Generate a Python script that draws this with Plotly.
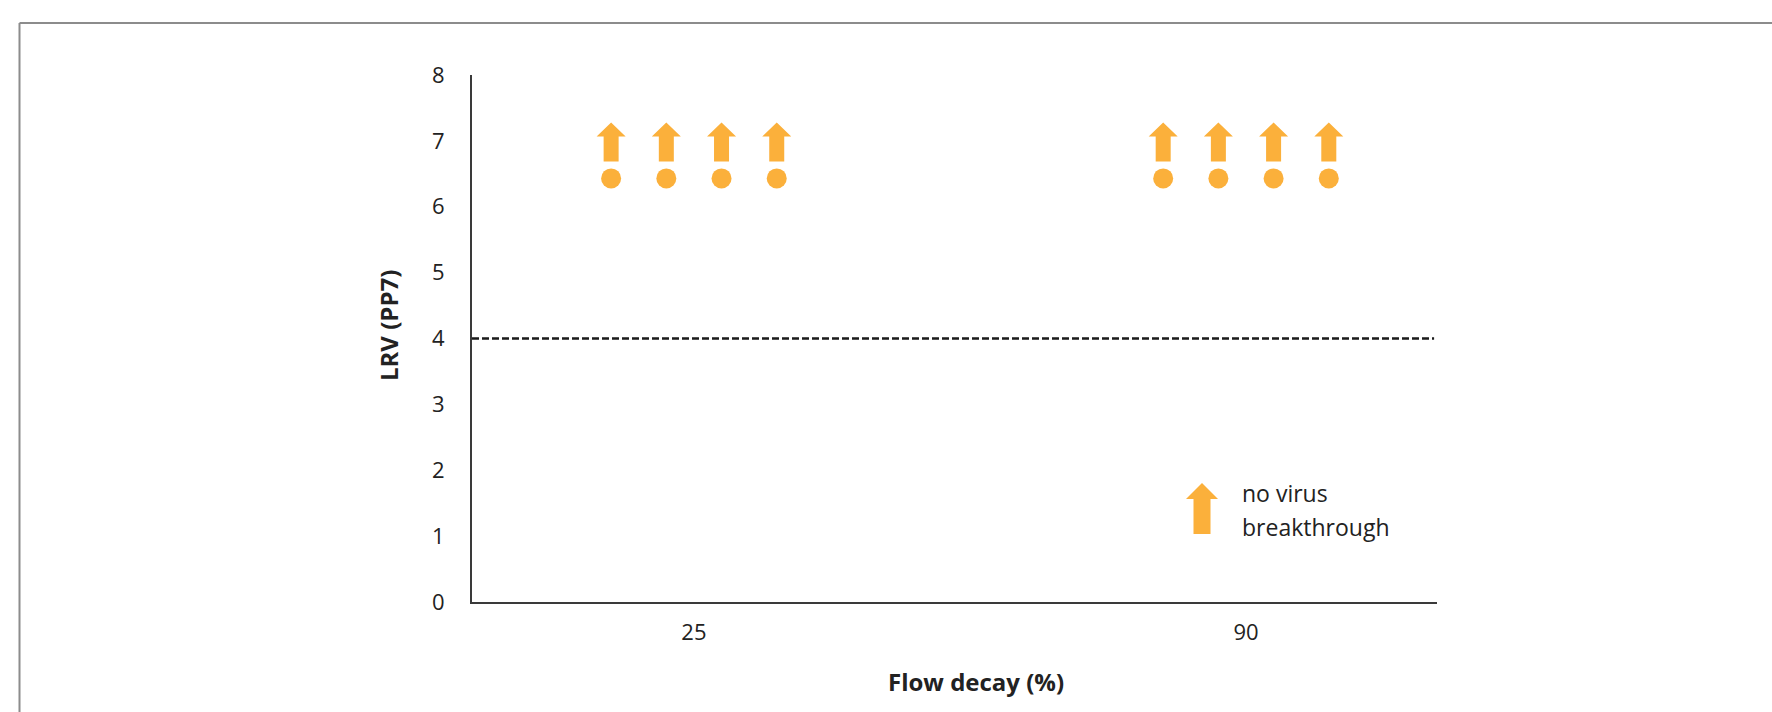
import plotly.graph_objects as go

# Flow decay groups and the log removal values measured for each replicate
flow_decay = ["25", "90"]
lrv_25 = [6.43, 6.43, 6.43, 6.43]
lrv_90 = [6.43, 6.43, 6.43, 6.43]
target_lrv = 4
y_ticks = [0, 1, 2, 3, 4, 5, 6, 7, 8]

ORANGE = "#FBB03B"
FONT = "Open Sans"
TEXT = "#222222"

# replicate spread around each category position (x-axis units)
spread = [-0.15, -0.05, 0.05, 0.15]


def up_arrow(base, shaft_half, shaft_top, head_half, tip):
    """Block arrow outline in pixel offsets from its anchor (y up)."""
    return (f"M{-shaft_half},{base} L{-shaft_half},{shaft_top} "
            f"L{-head_half},{shaft_top} L0,{tip} L{head_half},{shaft_top} "
            f"L{shaft_half},{shaft_top} L{shaft_half},{base} Z")


# arrow drawn above each replicate point
POINT_ARROW = up_arrow(17, 7.5, 42, 14.5, 56)
# larger arrow used in the key
KEY_ARROW = up_arrow(0, 8.5, 35, 16, 51)

fig = go.Figure()
shapes = []

for gi, values in enumerate([lrv_25, lrv_90]):
    xs = [gi + s for s in spread]
    fig.add_trace(go.Scatter(
        x=xs, y=values, mode="markers",
        marker=dict(symbol="circle", size=20, color=ORANGE, line=dict(width=0)),
        showlegend=False, hoverinfo="skip",
    ))
    for x, v in zip(xs, values):
        shapes.append(dict(
            type="path", xref="x", yref="y",
            xsizemode="pixel", ysizemode="pixel", xanchor=x, yanchor=v,
            path=POINT_ARROW, fillcolor=ORANGE, line=dict(width=0),
        ))

# key glyph
shapes.append(dict(
    type="path", xref="paper", yref="paper",
    xsizemode="pixel", ysizemode="pixel",
    xanchor=(1202 - 472) / 965, yanchor=(602 - 534) / 527,
    path=KEY_ARROW, fillcolor=ORANGE, line=dict(width=0),
))

# target LRV reference line
shapes.append(dict(
    type="line", xref="paper", yref="y", x0=0, x1=0.997,
    y0=target_lrv, y1=target_lrv,
    line=dict(color="#1a1a1a", width=2.5, dash="7px,3px"),
))

# frame around the figure
frame_x = (19.5 - 472) / 965
frame_y = (602 - 23) / 527
shapes.append(dict(type="line", xref="paper", yref="paper",
                   x0=frame_x, x1=frame_x, y0=frame_y, y1=-0.3,
                   line=dict(color="#8c8c8c", width=2)))
shapes.append(dict(type="line", xref="paper", yref="paper",
                   x0=frame_x, x1=1.4, y0=frame_y, y1=frame_y,
                   line=dict(color="#8c8c8c", width=2)))

annotations = [
    dict(x=0.7959, y=(602 - 493) / 527, xref="paper", yref="paper",
         xanchor="left", yanchor="middle", showarrow=False,
         text="no virus", font=dict(family=FONT, size=23, color=TEXT)),
    dict(x=0.7959, y=(602 - 527) / 527, xref="paper", yref="paper",
         xanchor="left", yanchor="middle", showarrow=False,
         text="breakthrough", font=dict(family=FONT, size=23, color=TEXT)),
    # axis titles
    dict(x=0.5223, y=-0.1518, xref="paper", yref="paper",
         xanchor="center", yanchor="middle", showarrow=False,
         text="<b>Flow decay (%)</b>", font=dict(family=FONT, size=24, color=TEXT)),
    dict(x=-0.087, y=(602 - 326) / 527, xref="paper", yref="paper",
         xanchor="center", yanchor="middle", showarrow=False, textangle=-90,
         text="<b>LRV (PP7)</b>", font=dict(family=FONT, size=24, color=TEXT)),
]

fig.update_layout(
    width=1772, height=712,
    margin=dict(l=472, r=335, t=75, b=110),
    paper_bgcolor="white", plot_bgcolor="white",
    font=dict(family=FONT, size=23, color=TEXT),
    annotations=annotations, shapes=shapes,
    showlegend=False,
)
fig.update_xaxes(
    range=[-0.402, 1.346], tickvals=[0, 1], ticktext=flow_decay,
    showgrid=False, zeroline=False, showline=True,
    linecolor="#3a3a3a", linewidth=2, ticks="",
    ticklabelstandoff=10, tickfont=dict(size=22),
)
fig.update_yaxes(
    range=[0, 8], tickvals=y_ticks,
    showgrid=False, zeroline=False, showline=True,
    linecolor="#3a3a3a", linewidth=2, ticks="",
    ticklabelstandoff=21, tickfont=dict(size=22),
)

fig.write_html("out.html")
